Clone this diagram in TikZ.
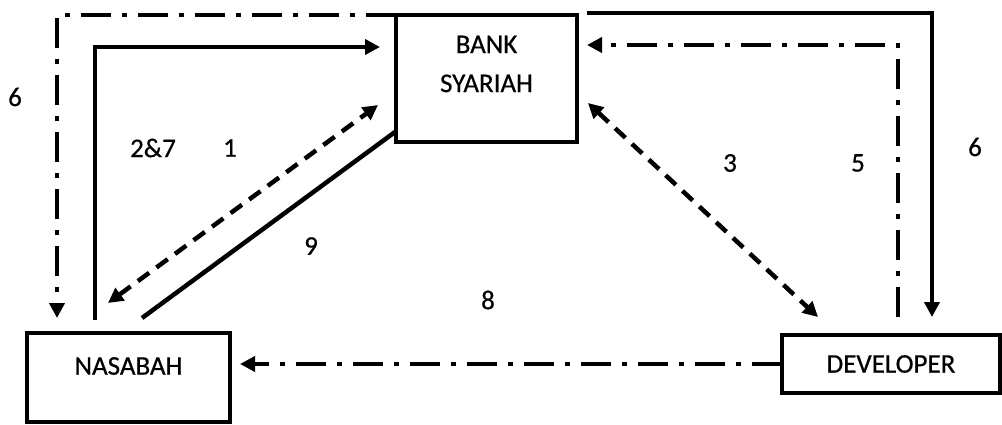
\documentclass[tikz,border=0pt]{standalone}
\usepackage{fontspec}
\setmainfont{Carlito}
\newfontfamily\lblfont{Carlito}[FakeBold=0.6]
\usetikzlibrary{arrows.meta,calc}
\tikzset{
  box/.style={draw, line width=4.5pt, rectangle, inner sep=0pt, outer sep=0pt, anchor=north west},
  txt/.style={font=\lblfont\fontsize{27}{39}\selectfont, inner sep=0pt},
  flow/.style={line width=4.5pt},
  dashflow/.style={line width=4.5pt, dash pattern=on 14pt off 9pt},
  dotflow/.style={line width=4.5pt, dash pattern=on 30pt off 11pt on 5pt off 11pt},
  tip/.style={-{Triangle[length=15pt,width=15pt]}},
  tips/.style={{Triangle[length=15pt,width=15pt]}-{Triangle[length=15pt,width=15pt]}}
}
\begin{document}
\begin{tikzpicture}[x=1pt,y=-1pt]
\useasboundingbox (0,0) rectangle (1002,424);
\fill[white] (0,0) rectangle (1002,424);

% the three parties
\node[box, minimum width=181pt, minimum height=127pt] (bank) at (396,15) {};
\node[box, minimum width=203pt, minimum height=89pt] (nas) at (27,333) {};
\node[box, minimum width=218pt, minimum height=58pt] (dev) at (782,335) {};
\node[txt, align=center] (banktxt) at ($(bank.north)+(0,49)$) {BANK\\SYARIAH};
\node[txt] (nastxt) at ($(nas.north)+(0,33)$) {NASABAH};
\node[txt] (devtxt) at (dev.center) {DEVELOPER};

% 6: bank to nasabah, dash-dot round the left
\draw[dotflow, tip] (bank.north west) -| ($(nas.north west)+(30,-15)$);
% 2&7: nasabah to bank, solid
\draw[flow, tip] ($(nas.north west)+(68,-13)$) |- ($(bank.north west)+(-16,32)$);
% 1: dashed, both ways
\draw[dashflow, tips] ($(nas.north west)+(81,-30)$) -- ($(bank.north west)+(-18,90)$);
% 9: solid, no tip
\draw[flow] ($(nas.north west)+(115,-15)$) -- ($(bank.south west)+(-1,-10)$);
% 3: dashed, both ways
\draw[dashflow, tips] ($(bank.north east)+(11,88)$) -- ($(dev.north west)+(36,-18)$);
% 5: developer to bank, dash-dot
\draw[dotflow, tip] ($(dev.north west)+(116,-18)$) |- ($(bank.north east)+(10,30)$);
% 6: bank to developer, solid round the right
\draw[flow, tip] ($(bank.north east)+(10,-2)$) -| ($(dev.north west)+(150,-18)$);
% 8: developer to nasabah, dash-dot
\draw[dotflow, tip] (dev.west) -- ($(dev.west -| nas.east)+(10,0)$);

% step numbers
\node[txt] (n6l) at (15,97) {6};
\node[txt] (n27) at (153,148) {2\&7};
\node[txt] (n1) at (230,148) {1};
\node[txt] (n9) at (311,246) {9};
\node[txt] (n3) at (730,163) {3};
\node[txt] (n5) at (858,163) {5};
\node[txt] (n6r) at (975,147) {6};
\node[txt] (n8) at (488,300) {8};
\end{tikzpicture}
\end{document}
